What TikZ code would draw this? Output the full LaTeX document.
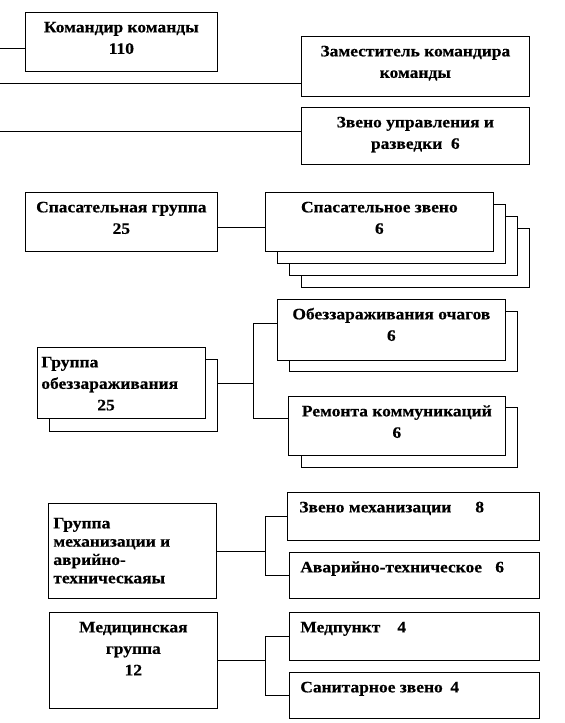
\documentclass[tikz,border=0pt]{standalone}
\usepackage{fontspec}
\setmainfont{Liberation Serif}[BoldFeatures={FakeStretch=1.09,FakeBold=0.4}]
\newcommand\bxt[4]{\parbox[t][#2][t]{#1}{#3\rule{0pt}{20pt}#4\par}}
\begin{document}
\begin{tikzpicture}[x=1pt,y=-1pt,
  bx/.style={draw=black, line width=0.7pt, fill=white, inner sep=0pt, anchor=north west},
  ln/.style={draw=black, line width=0.7pt},
  font=\bfseries\fontsize{16}{21.5}\selectfont]
\useasboundingbox[fill=white] (0,0) rectangle (565,723);

% top block
\node[bx] (cmd) at (25,12) {\bxt{192pt}{59pt}{\centering}{Командир команды\\110}};
\node[bx] (zam) at (301,36) {\bxt{228pt}{60pt}{\centering}{Заместитель командира\\команды}};
\node[bx] (zvu) at (301,107) {\bxt{228pt}{57pt}{\centering}{Звено управления и\\разведки~~6}};
\coordinate (a1) at (0,48);
\coordinate (a2) at (0,83);
\coordinate (a3) at (0,131);
\draw[ln] (a1) -- (a1 -| cmd.west);
\draw[ln] (a2) -- (a2 -| zam.west);
\draw[ln] (a3) -- (a3 -| zvu.west);

% rescue
\node[bx] (sg) at (25,192) {\bxt{192pt}{59pt}{\centering}{Спасательная группа\\25}};
\node[bx] (sz4) at (301,228) {\bxt{228pt}{59pt}{}{}};
\node[bx] (sz3) at (289,216) {\bxt{228pt}{59pt}{}{}};
\node[bx] (sz2) at (277,204) {\bxt{228pt}{59pt}{}{}};
\node[bx] (sz) at (265,192) {\bxt{228pt}{59pt}{\centering}{Спасательное звено\\6}};
\draw[ln] ([yshift=-5.5pt]sg.east) -- ([yshift=-5.5pt]sg.east -| sz.west);

% disinfection
\node[bx] (gd2) at (49,359) {\bxt{168pt}{72pt}{}{}};
\node[bx] (gd) at (37,347) {\bxt{168pt}{71pt}{\raggedright\leftskip=4pt}{Группа\\обеззараживания\\\hspace*{56pt}25}};
\node[bx] (od2) at (289,311) {\bxt{228pt}{60pt}{}{}};
\node[bx] (od) at (277,299) {\bxt{228pt}{61pt}{\centering}{Обеззараживания очагов\\6}};
\node[bx] (rk2) at (301,407) {\bxt{216pt}{60pt}{}{}};
\node[bx] (rk) at (288,396) {\bxt{217pt}{59pt}{\centering}{Ремонта коммуникаций\\6}};
\coordinate (bd) at (253,383);
\coordinate (bdt) at (253,323);
\coordinate (bdb) at (253,418);
\draw[ln] (gd2.east |- bd) -- (bd);
\draw[ln] (od.west |- bdt) -- (bdt) -- (bdb) -- (rk.west |- bdb);

% mechanization
\node[bx] (gm) at (48,503) {\parbox[t][95pt][t]{168pt}{\fontsize{16}{18.3}\selectfont\raggedright\leftskip=5pt\rule{0pt}{25pt}Группа\\механизации и\\аврийно-\\техническаяы\par}};
\node[bx] (zm) at (287,492) {\bxt{252pt}{48pt}{\raggedright\leftskip=12pt}{\makebox[176pt][l]{Звено механизации}8}};
\node[bx] (av) at (289,552) {\bxt{250pt}{46pt}{\raggedright\leftskip=11pt}{\makebox[195pt][l]{Аварийно-техническое}6}};
\coordinate (bm) at (265,551);
\draw[ln] (gm.east |- bm) -- (bm);
\draw[ln] (zm.west) -- (zm.west -| bm) -- (av.west -| bm) -- (av.west);

% medical
\node[bx] (mg) at (49,612) {\bxt{168pt}{96pt}{\centering}{Медицинская\\группа\\12}};
\node[bx] (mp) at (289,612) {\bxt{250pt}{48pt}{\raggedright\leftskip=11pt}{\makebox[97pt][l]{Медпункт}4}};
\node[bx] (sn) at (289,672) {\bxt{250pt}{46pt}{\raggedright\leftskip=11pt}{\makebox[150pt][l]{Санитарное звено}4}};
\coordinate (bq) at (265,660);
\draw[ln] (mg.east |- bq) -- (bq);
\draw[ln] (mp.west) -- (mp.west -| bq) -- (sn.west -| bq) -- (sn.west);
\end{tikzpicture}
\end{document}
